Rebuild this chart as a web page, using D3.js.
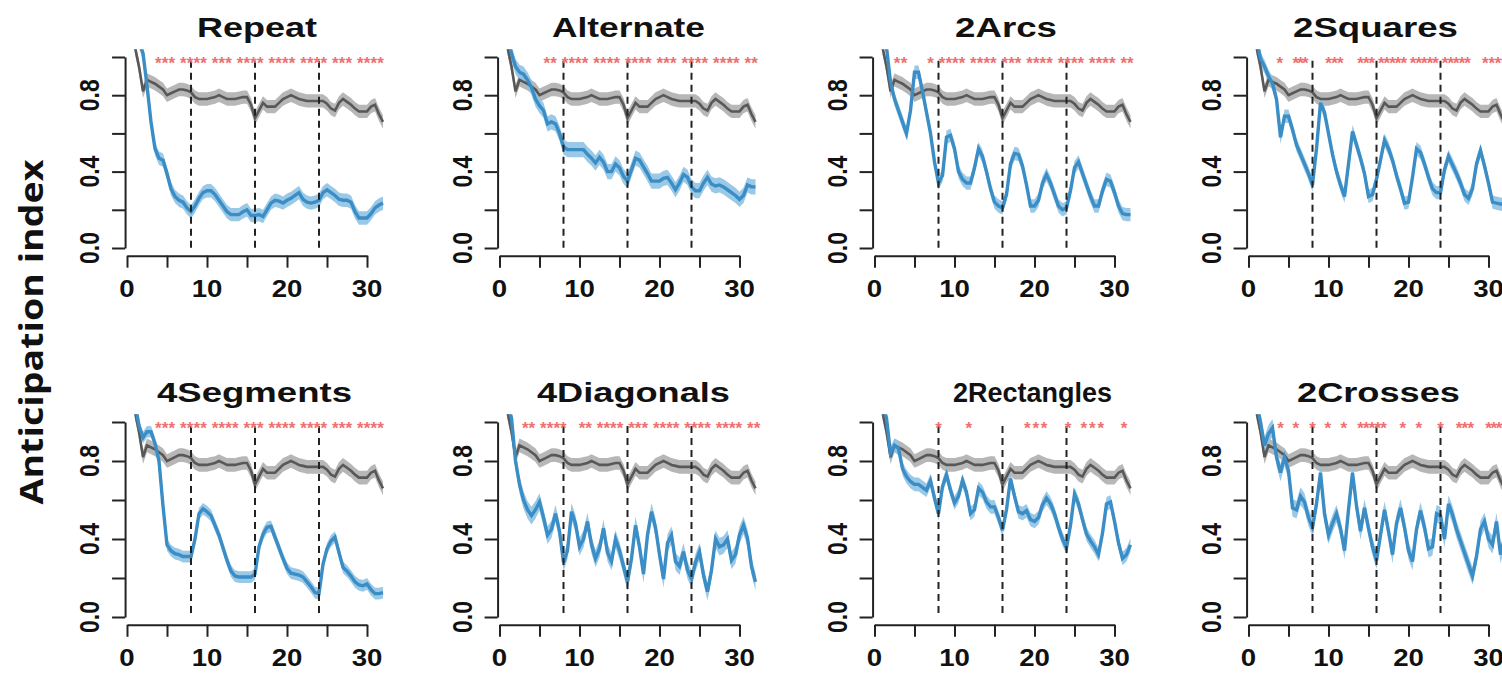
<!DOCTYPE html>
<html>
<head>
<meta charset="utf-8">
<script src="https://cdn.jsdelivr.net/npm/d3@7"></script>
<style>
  body { margin: 0; background: #fff; }
</style>
</head>
<body>
<div id="chart"></div>
<script>
// ---- data ----
const panelNames = ["Repeat", "Alternate", "2Arcs", "2Squares",
                    "4Segments", "4Diagonals", "2Rectangles", "2Crosses"];

// sample positions: trial 1 .. 32 in half-trial steps
const trials = d3.range(1, 32.5, 0.5);

// control group (grey), same in every panel
const controlMean = [1.05, 0.95, 0.82, 0.88, 0.87, 0.86, 0.845, 0.83, 0.80, 0.81,
  0.82, 0.83, 0.83, 0.825, 0.815, 0.79, 0.78, 0.78, 0.78, 0.785,
  0.79, 0.80, 0.79, 0.78, 0.78, 0.78, 0.785, 0.79, 0.79, 0.75,
  0.68, 0.72, 0.76, 0.74, 0.74, 0.74, 0.76, 0.78, 0.79, 0.80,
  0.79, 0.78, 0.775, 0.77, 0.77, 0.77, 0.77, 0.77, 0.755, 0.73,
  0.72, 0.76, 0.78, 0.765, 0.75, 0.73, 0.715, 0.715, 0.715, 0.74,
  0.75, 0.70, 0.66];

const repeatMean = [1.10, 1.08, 1.02, 0.85, 0.66, 0.52, 0.47, 0.46, 0.39, 0.31,
  0.27, 0.25, 0.24, 0.21, 0.19, 0.22, 0.26, 0.29, 0.30, 0.30,
  0.28, 0.25, 0.22, 0.19, 0.175, 0.175, 0.175, 0.19, 0.20, 0.17,
  0.17, 0.175, 0.165, 0.20, 0.235, 0.25, 0.245, 0.235, 0.25, 0.26,
  0.275, 0.29, 0.255, 0.24, 0.235, 0.24, 0.25, 0.29, 0.305, 0.29,
  0.275, 0.255, 0.25, 0.25, 0.24, 0.19, 0.157, 0.157, 0.157, 0.18,
  0.21, 0.225, 0.235];

const alternateMean = [1.10, 1.02, 0.95, 0.92, 0.91, 0.88, 0.84, 0.78, 0.745, 0.72,
  0.65, 0.66, 0.65, 0.60, 0.53, 0.515, 0.515, 0.515, 0.515, 0.515,
  0.49, 0.47, 0.445, 0.475, 0.45, 0.40, 0.40, 0.44, 0.42, 0.375,
  0.35, 0.41, 0.47, 0.46, 0.425, 0.39, 0.35, 0.35, 0.35, 0.365,
  0.37, 0.34, 0.305, 0.34, 0.385, 0.37, 0.32, 0.30, 0.30, 0.34,
  0.37, 0.335, 0.325, 0.33, 0.32, 0.305, 0.29, 0.275, 0.255, 0.275,
  0.33, 0.32, 0.32];

const arcsMean = [1.12, 1.05, 0.87, 0.78, 0.72, 0.66, 0.60, 0.72, 0.92, 0.92,
  0.82, 0.71, 0.60, 0.45, 0.34, 0.38, 0.58, 0.59, 0.52, 0.40,
  0.36, 0.34, 0.34, 0.42, 0.52, 0.48, 0.40, 0.31, 0.24, 0.22,
  0.21, 0.28, 0.44, 0.495, 0.49, 0.43, 0.33, 0.22, 0.22, 0.25,
  0.34, 0.385, 0.34, 0.28, 0.22, 0.20, 0.21, 0.30, 0.42, 0.45,
  0.39, 0.33, 0.27, 0.22, 0.22, 0.30, 0.36, 0.35, 0.29, 0.22,
  0.18, 0.175, 0.175];

const squaresMean = [1.10, 0.99, 0.95, 0.90, 0.86, 0.78, 0.58, 0.69, 0.69, 0.62,
  0.54, 0.49, 0.44, 0.39, 0.33, 0.52, 0.76, 0.71, 0.60, 0.49,
  0.40, 0.33, 0.27, 0.44, 0.61, 0.54, 0.47, 0.39, 0.27, 0.28,
  0.36, 0.46, 0.565, 0.52, 0.46, 0.38, 0.31, 0.235, 0.24, 0.37,
  0.52, 0.50, 0.44, 0.37, 0.31, 0.29, 0.29, 0.41, 0.48, 0.435,
  0.39, 0.34, 0.28, 0.26, 0.31, 0.44, 0.51, 0.43, 0.34, 0.24,
  0.235, 0.23, 0.23];

const segmentsMean = [1.10, 0.98, 0.92, 0.95, 0.95, 0.89, 0.80, 0.57, 0.37, 0.34,
  0.325, 0.32, 0.31, 0.31, 0.31, 0.40, 0.53, 0.555, 0.54, 0.52,
  0.47, 0.42, 0.355, 0.29, 0.235, 0.21, 0.205, 0.205, 0.205, 0.205,
  0.22, 0.36, 0.425, 0.46, 0.465, 0.41, 0.355, 0.30, 0.25, 0.225,
  0.22, 0.215, 0.205, 0.18, 0.155, 0.125, 0.12, 0.27, 0.35, 0.39,
  0.41, 0.33, 0.255, 0.235, 0.21, 0.18, 0.165, 0.16, 0.17, 0.14,
  0.12, 0.12, 0.125];

const diagonalsMean = [1.10, 1.02, 0.80, 0.68, 0.60, 0.55, 0.52, 0.55, 0.59, 0.51,
  0.42, 0.45, 0.53, 0.44, 0.28, 0.34, 0.54, 0.48, 0.36, 0.40,
  0.49, 0.37, 0.30, 0.35, 0.455, 0.33, 0.285, 0.40, 0.34, 0.26,
  0.18, 0.30, 0.47, 0.36, 0.22, 0.42, 0.54, 0.46, 0.32, 0.195,
  0.38, 0.42, 0.285, 0.26, 0.335, 0.24, 0.195, 0.28, 0.335, 0.215,
  0.13, 0.24, 0.40, 0.36, 0.37, 0.40, 0.29, 0.32, 0.42, 0.47,
  0.405, 0.26, 0.18];

const rectanglesMean = [1.10, 1.02, 0.84, 0.88, 0.865, 0.76, 0.72, 0.695, 0.68, 0.68,
  0.665, 0.65, 0.70, 0.61, 0.53, 0.67, 0.73, 0.65, 0.585, 0.62,
  0.70, 0.64, 0.53, 0.55, 0.66, 0.64, 0.59, 0.565, 0.565, 0.51,
  0.445, 0.55, 0.71, 0.62, 0.54, 0.53, 0.545, 0.50, 0.49, 0.51,
  0.575, 0.61, 0.58, 0.53, 0.46, 0.40, 0.355, 0.47, 0.63, 0.58,
  0.50, 0.425, 0.39, 0.36, 0.32, 0.43, 0.58, 0.59, 0.49, 0.38,
  0.30, 0.32, 0.37];

const crossesMean = [1.10, 1.00, 0.88, 0.94, 0.97, 0.82, 0.74, 0.82, 0.75, 0.56,
  0.55, 0.62, 0.59, 0.51, 0.46, 0.58, 0.74, 0.53, 0.42, 0.48,
  0.53, 0.455, 0.34, 0.55, 0.74, 0.57, 0.44, 0.56, 0.455, 0.36,
  0.29, 0.42, 0.55, 0.44, 0.32, 0.48, 0.56, 0.46, 0.34, 0.285,
  0.45, 0.545, 0.46, 0.35, 0.36, 0.53, 0.52, 0.40, 0.58, 0.525,
  0.45, 0.39, 0.33, 0.27, 0.21, 0.31, 0.45, 0.49, 0.40, 0.37,
  0.49, 0.32, 0.40];

const shapeMeans = [repeatMean, alternateMean, arcsMean, squaresMean,
                    segmentsMean, diagonalsMean, rectanglesMean, crossesMean];

// standard errors (half width of the shaded bands)
const controlSE = 0.035;
const shapeSE = [0.035, 0.04, 0.035, 0.035, 0.03, 0.045, 0.035, 0.045];

// significance stars: [first trial, last trial, marks]
const sigStars = [
  [[3.5, 32.1, "*** **** *** **** **** **** *** ****"]],
  [[5.5, 32.3, "** **** **** **** *** **** **** **"]],
  [[2.4, 4.1, "**"], [6.6, 32.4, "* **** **** *** **** **** **** **"]],
  [[3.6, 4.2, "*"], [5.5, 7.5, "***"], [9.6, 11.9, "***"],
   [13.6, 27.8, "*** ***** ***** *****"], [29.2, 32.4, "****"]],
  [[3.5, 32.1, "*** **** **** *** **** **** *** ****"]],
  [[2.8, 8.4, "** ****"], [9.9, 32.6, "** **** *** **** **** **** **"]],
  [[7.7, 8.3, "*"], [11.5, 12.1, "*"], [18.7, 21.6, "***"], [23.9, 24.5, "*"],
   [25.75, 28.7, "***"], [30.9, 31.5, "*"]],
  [[3.7, 4.3, "*"], [5.6, 6.2, "*"], [7.7, 8.3, "*"], [9.6, 10.2, "*"], [11.6, 12.2, "*"],
   [13.6, 17.3, "*****"], [19.0, 19.6, "*"], [21.0, 21.6, "*"], [23.7, 24.3, "*"],
   [25.9, 28.2, "***"], [29.6, 32.4, "****"]]
];

const blockEdges = [8, 16, 24];
const xTicks = [0, 5, 10, 15, 20, 25, 30];
const xTickLabels = [0, 10, 20, 30];
const yTicks = [0, 0.2, 0.4, 0.6, 0.8, 1.0];
const yTickLabels = [0, 0.4, 0.8];
const yAxisTitle = "Anticipation index";

// ---- layout ----
const width = 1502, height = 673;
const colX0 = [127, 499.5, 874.5, 1248.5];   // pixel of trial 0
const rowTop = [57, 422];                   // pixel of value 1
const rowBottom = [248, 617];               // pixel of value 0
const pxPerTrial = 8;
// title boxes [left, width] (the source squeezes some titles)
const titleBox = [[197, 120], [552, 153], [955, 102], [1293, 165],
                  [157, 195], [537, 193], [953, 159], [1297, 163]];

const blue = "#3a8dc5", blueBand = "#8fc3e4";
const grey = "#585858", greyBand = "#b7b7b7";
const starRed = "#ef7070";
const axisCol = "#222";

const svg = d3.select("#chart").append("svg")
    .attr("width", width)
    .attr("height", height)
    .style("font-family", "'Liberation Sans', Arial, sans-serif");

svg.append("rect").attr("width", width).attr("height", height).attr("fill", "#fff");

const defs = svg.append("defs");

panelNames.forEach((name, i) => {
    const col = i % 4, row = Math.floor(i / 4);
    const x = d3.scaleLinear().domain([0, 30])
        .range([colX0[col], colX0[col] + 30 * pxPerTrial]);
    const y = d3.scaleLinear().domain([0, 1]).range([rowBottom[row], rowTop[row]]);

    // R style plot region: data range padded by 4%
    const left = x(1 - 0.04 * 31), right = x(32 + 0.04 * 31);
    const top = y(1.04), bottom = y(-0.04);

    defs.append("clipPath").attr("id", "clip" + i)
      .append("rect")
        .attr("x", left).attr("y", top)
        .attr("width", right - left).attr("height", bottom - top);

    const g = svg.append("g").attr("class", "panel");
    const plot = g.append("g").attr("clip-path", `url(#clip${i})`);

    const ctrl = trials.map((t, k) => ({t: t, m: controlMean[k]}));
    const shape = trials.map((t, k) => ({t: t, m: shapeMeans[i][k]}));

    const band = se => d3.area()
        .x(d => x(d.t))
        .y0(d => y(d.m - se))
        .y1(d => y(d.m + se));
    const line = d3.line().x(d => x(d.t)).y(d => y(d.m));

    plot.append("path").datum(ctrl)
        .attr("d", band(controlSE))
        .attr("fill", greyBand);
    plot.append("path").datum(shape)
        .attr("d", band(shapeSE[i]))
        .attr("fill", blueBand)
        .attr("fill-opacity", 0.9);
    plot.append("path").datum(ctrl)
        .attr("d", line)
        .attr("fill", "none")
        .attr("stroke", grey)
        .attr("stroke-width", 2.6);
    plot.append("path").datum(shape)
        .attr("d", line)
        .attr("fill", "none")
        .attr("stroke", blue)
        .attr("stroke-width", 3.4);

    // block boundaries
    g.selectAll(".block")
      .data(blockEdges)
      .enter().append("line")
        .attr("class", "block")
        .attr("x1", d => x(d)).attr("x2", d => x(d))
        .attr("y1", y(0.98)).attr("y2", y(0))
        .attr("stroke", axisCol)
        .attr("stroke-width", 2)
        .attr("stroke-dasharray", "7,5");

    // x axis
    const xAxis = d3.axisBottom(x).tickValues(xTicks).tickFormat("")
        .tickSize(12).tickSizeOuter(0);
    const xg = g.append("g")
        .attr("transform", `translate(0,${bottom})`)
        .call(xAxis);
    xg.selectAll("path, line").attr("stroke", axisCol).attr("stroke-width", 2);

    g.selectAll(".xlab")
      .data(xTickLabels)
      .enter().append("text")
        .attr("class", "xlab")
        .attr("transform", d => `translate(${x(d)},${bottom + 41}) scale(1.2,1)`)
        .attr("text-anchor", "middle")
        .attr("font-size", 23)
        .attr("font-weight", "bold")
        .attr("fill", "#111")
        .text(d => d);

    // y axis
    const yAxis = d3.axisLeft(y).tickValues(yTicks).tickFormat("")
        .tickSize(13).tickSizeOuter(0);
    const yg = g.append("g")
        .attr("transform", `translate(${left},0)`)
        .call(yAxis);
    yg.selectAll("path, line").attr("stroke", axisCol).attr("stroke-width", 2);

    g.selectAll(".ylab")
      .data(yTickLabels)
      .enter().append("text")
        .attr("class", "ylab")
        .attr("transform", d => `translate(${left - 26},${y(d)}) scale(1.2,1) rotate(-90)`)
        .attr("text-anchor", "middle")
        .attr("font-size", 23)
        .attr("font-weight", "bold")
        .attr("fill", "#111")
        .text(d => d.toFixed(1));

    // significance stars
    sigStars[i].forEach(([a, b, marks]) => {
        const t = g.append("text")
            .attr("y", y(1) + 12)
            .attr("font-size", 17)
            .attr("font-weight", "bold")
            .attr("fill", starRed)
            .text(marks);
        if (marks.length === 1) {
            t.attr("x", x((a + b) / 2)).attr("text-anchor", "middle");
        } else {
            t.attr("x", x(a))
             .attr("textLength", x(b) - x(a))
             .attr("lengthAdjust", "spacing");
        }
    });

    // title
    g.append("text")
        .attr("x", titleBox[i][0])
        .attr("y", y(1) - 20)
        .attr("textLength", titleBox[i][1])
        .attr("lengthAdjust", "spacingAndGlyphs")
        .attr("font-size", 28)
        .attr("font-weight", "bold")
        .attr("fill", "#111")
        .text(name);
});

// shared y axis title
svg.append("text")
    .attr("transform", "translate(43,332) rotate(-90)")
    .attr("text-anchor", "middle")
    .attr("font-family", "'Open Sans', sans-serif")
    .attr("font-size", 32)
    .attr("font-weight", "bold")
    .attr("fill", "#111")
    .attr("textLength", 345)
    .attr("lengthAdjust", "spacingAndGlyphs")
    .text(yAxisTitle);
</script>
</body>
</html>
